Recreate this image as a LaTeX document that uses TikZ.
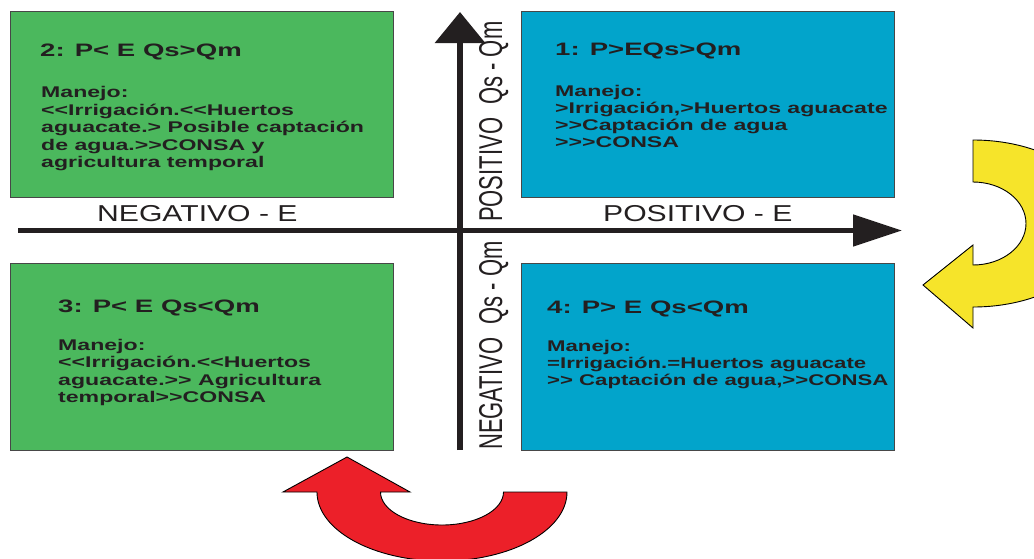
\documentclass[tikz,border=0pt]{standalone}
\usepackage{fontspec}
\usepackage{graphicx}
\setmainfont{Liberation Sans}
\newfontfamily\boxfont[FakeStretch=1.49]{Liberation Sans}
\newfontfamily\boxfontb[FakeStretch=1.43]{Liberation Sans}
\newfontfamily\titlefont[FakeStretch=1.53]{Liberation Sans}
\newfontfamily\axisfont[FakeStretch=1.31]{Liberation Sans}
\usetikzlibrary{arrows.meta}
\definecolor{qgreen}{HTML}{4BB85D}
\definecolor{qblue}{HTML}{02A4CB}
\definecolor{ink}{HTML}{231F20}
\definecolor{ayellow}{HTML}{F6E42A}
\definecolor{ared}{HTML}{EC2029}
\tikzset{
  quad/.style={draw=black!72, line width=1.2pt, inner sep=0pt, anchor=north west, minimum height=186pt},
  ttl/.style={anchor=base west, inner sep=0pt, text=ink, font=\titlefont\bfseries\fontsize{18}{18}\selectfont},
  bln/.style={anchor=base west, inner sep=0pt, text=ink, font=\boxfont\bfseries\fontsize{15.5}{17}\selectfont},
  blnb/.style={anchor=base west, inner sep=0pt, text=ink, font=\boxfontb\bfseries\fontsize{15.5}{17}\selectfont},
  hlab/.style={anchor=base west, inner sep=0pt, text=ink, font=\axisfont\fontsize{23}{23}\selectfont},
  vlab/.style={rotate=90, anchor=base west, inner sep=0pt, text=ink, font=\fontsize{22}{22}\selectfont},
  curvearrow/.style={draw=black, line width=0.9pt, line join=miter}
}
\begin{document}
\begin{tikzpicture}[x=1pt,y=-1pt]
\useasboundingbox (0,0) rectangle (1034,558);
\clip (0,0) rectangle (1034,558);

% quadrant boxes
\node[quad, fill=qgreen, minimum width=383pt] (q2) at (10,11) {};
\node[quad, fill=qblue, minimum width=373pt] (q1) at (521,11) {};
\node[quad, fill=qgreen, minimum width=383pt, minimum height=187pt] (q3) at (10,263) {};
\node[quad, fill=qblue, minimum width=373pt, minimum height=187pt] (q4) at (521,263) {};

% box 2
\node[ttl] (t2) at (40,56.5) {2: P< E Qs>Qm};
\node[bln] (b2a) at (41,97) {Manejo:};
\node[bln] (b2b) at (41,115) {<<Irrigación.<<Huertos};
\node[bln] (b2c) at (41,132.5) {aguacate.> Posible captación};
\node[bln] (b2d) at (41,150) {de agua.>>CONSA y};
\node[bln] (b2e) at (41,167.5) {agricultura temporal};

% box 1
\node[ttl] (t1) at (555,55) {1: P>EQs>Qm};
\node[bln] (b1a) at (555,96.5) {Manejo:};
\node[bln] (b1b) at (555,113) {>Irrigación,>Huertos aguacate};
\node[bln] (b1c) at (555,130) {>>Captación de agua};
\node[bln] (b1d) at (555,147) {>>>CONSA};

% box 3
\node[ttl] (t3) at (58,312) {3: P< E Qs<Qm};
\node[bln] (b3a) at (58,350) {Manejo:};
\node[bln] (b3b) at (58,367.5) {<<Irrigación.<<Huertos};
\node[bln] (b3c) at (58,385) {aguacate.>> Agricultura};
\node[bln] (b3d) at (58,402.5) {temporal>>CONSA};

% box 4
\node[ttl] (t4) at (547,313) {4: P> E Qs<Qm};
\node[blnb] (b4a) at (547,351) {Manejo:};
\node[blnb] (b4b) at (547,368) {=Irrigación.=Huertos aguacate};
\node[blnb] (b4c) at (547,385) {>> Captación de agua,>>CONSA};

% axes
\coordinate (hs) at (18,230.5);
\coordinate (he) at (902,230.5);
\coordinate (vs) at (460,450);
\coordinate (ve) at (460,12);
\draw[draw=ink, line width=5pt, -{Triangle[length=49pt,width=31pt,fill=ink]}] (hs) -- (he);
\draw[draw=ink, line width=6.5pt, -{Triangle[length=31pt,width=49pt,fill=ink]}] (vs) -- (ve);

% axis labels
\node[hlab] (ln) at (97,221) {NEGATIVO - E};
\node[hlab] (lp) at (603,221) {POSITIVO - E};
\node[vlab] (lvp) at (502,222) {\scalebox{1}[1.5]{POSITIVO\hspace{0.6em}Qs - Qm}};
\node[vlab] (lvn) at (502,450) {\scalebox{1}[1.5]{NEGATIVO\hspace{0.6em}Qs - Qm}};

% yellow curved arrow (right)
\draw[curvearrow, fill=ayellow]
  (973,140) arc[start angle=-90, end angle=90, x radius=130, y radius=83.5]
  -- (973,328) -- (923,285) -- (973,245) -- (973,265)
  arc[start angle=90, end angle=-90, x radius=53, y radius=41.5]
  -- cycle;

% red curved arrow (bottom)
\draw[curvearrow, fill=ared]
  (317,492) arc[start angle=180, end angle=0, x radius=125, y radius=69]
  -- (503.5,492)
  arc[start angle=0, end angle=180, x radius=61.5, y radius=33]
  -- (410,492) -- (347,457) -- (283,492) -- cycle;
\end{tikzpicture}
\end{document}
